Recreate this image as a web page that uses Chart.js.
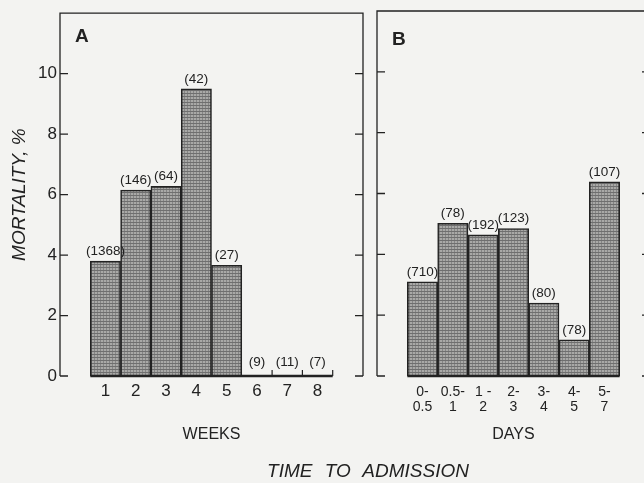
<!DOCTYPE html>
<html>
<head>
<meta charset="utf-8">
<script src="https://cdn.jsdelivr.net/npm/chart.js@4/dist/chart.umd.min.js"></script>
<style>
  html, body { margin:0; padding:0; background:#f3f3f1; overflow:hidden; width:644px; height:483px; }
  canvas { position:absolute; left:0; top:0; }
  .lbl { position:absolute; font-family:"Liberation Sans", Arial, sans-serif; color:#222; }
  #panelA { left:75px; top:25px; font-size:19px; font-weight:bold; }
  #panelB { left:392px; top:28px; font-size:19px; font-weight:bold; }
  #xcap { left:0; width:736px; top:460px; text-align:center; font-size:19px; font-style:italic; word-spacing:7px; }
</style>
</head>
<body>
<canvas id="chartA" width="644" height="483"></canvas>
<canvas id="chartB" width="700" height="483"></canvas>
<div class="lbl" id="panelA">A</div>
<div class="lbl" id="panelB">B</div>
<div class="lbl" id="xcap">TIME TO ADMISSION</div>
<script>
// ── Data ───────────────────────────────────────────────
const weekLabels    = ['1', '2', '3', '4', '5', '6', '7', '8'];
const weekMortality = [3.8, 6.15, 6.27, 9.5, 3.66, 0, 0, 0];
const weekCounts    = ['(1368)', '(146)', '(64)', '(42)', '(27)', '(9)', '(11)', '(7)'];

const dayLabels    = [['0-', '0.5'], ['0.5-', '1'], ['1 -', '2'], ['2-', '3'], ['3-', '4'], ['4-', '5'], ['5-', '7']];
const dayMortality = [3.1, 5.02, 4.64, 4.85, 2.4, 1.19, 6.38];
const dayCounts    = ['(710)', '(78)', '(192)', '(123)', '(80)', '(78)', '(107)'];

const yTicks = [0, 2, 4, 6, 8, 10];
const yMax   = 12;

const INK  = '#222222';
const FONT = '"Liberation Sans", Arial, sans-serif';

// ── Stippled bar fill ──────────────────────────────────
function stipple() {
  const c = document.createElement('canvas');
  c.width = 3; c.height = 3;
  const g = c.getContext('2d');
  g.fillStyle = '#a9a9a7'; g.fillRect(0, 0, 3, 3);
  g.fillStyle = '#6f6f6f'; g.fillRect(0, 0, 3, 1);
  g.fillStyle = '#858585'; g.fillRect(1, 1, 1, 2);
  return g.createPattern(c, 'repeat');
}
const fill = stipple();

// pad one empty slot on each side so bars sit inside the frame
const pad = arr => [null, ...arr, null];

// ── Frame, inward ticks, baseline, counts ──────────────
const framePlugin = {
  id: 'frame',
  afterDatasetsDraw(chart) {
    const { ctx, chartArea: a, scales } = chart;
    const y = scales.y;
    ctx.save();
    ctx.strokeStyle = INK;
    ctx.lineWidth = 1.3;
    ctx.beginPath();
    ctx.moveTo(a.left, a.bottom); ctx.lineTo(a.left, a.top);
    ctx.lineTo(a.right, a.top); ctx.lineTo(a.right, a.bottom);
    yTicks.forEach(v => {
      const py = y.getPixelForValue(v);
      ctx.moveTo(a.left, py); ctx.lineTo(a.left + 8, py);
      ctx.moveTo(a.right, py); ctx.lineTo(a.right - 8, py);
    });
    ctx.stroke();

    const meta = chart.getDatasetMeta(0);
    const vals = chart.data.datasets[0].data;
    const counts = chart.options.plugins.frame.counts;
    const y0 = y.getPixelForValue(0);
    let x0 = null, x1 = null;
    meta.data.forEach((el, i) => {
      if (vals[i] == null) return;
      const l = el.x - el.width / 2, r = el.x + el.width / 2;
      if (x0 === null) x0 = l;
      x1 = r;
    });
    // baseline
    ctx.lineWidth = 2.5;
    ctx.beginPath(); ctx.moveTo(x0, y0); ctx.lineTo(x1, y0); ctx.stroke();
    // small ticks at right edge of empty bins
    ctx.lineWidth = 1.2;
    ctx.beginPath();
    meta.data.forEach((el, i) => {
      if (vals[i] !== 0) return;
      const r = el.x + el.width / 2;
      ctx.moveTo(r, y0); ctx.lineTo(r, y0 - 6);
    });
    ctx.stroke();

    // sample sizes above bars
    ctx.fillStyle = INK;
    ctx.font = '13.5px ' + FONT;
    ctx.textAlign = 'center';
    ctx.textBaseline = 'bottom';
    meta.data.forEach((el, i) => {
      if (vals[i] == null) return;
      ctx.fillText(counts[i], el.x, el.y - (vals[i] === 0 ? 7 : 3));
    });
    ctx.restore();
  }
};

function barDataset(vals) {
  return {
    data: vals,
    backgroundColor: fill,
    borderColor: INK,
    borderWidth: 1.6,
    barPercentage: 1,
    categoryPercentage: 1
  };
}

function yScale(show) {
  return {
    display: show,
    min: 0, max: yMax,
    afterBuildTicks: s => { s.ticks = yTicks.map(v => ({ value: v })); },
    afterFit: s => { if (show) s.width = 60; },
    grid: { display: false, drawTicks: false },
    border: { display: false },
    ticks: { padding: 3, color: INK, font: { family: FONT, size: 17 } },
    title: {
      display: show, text: 'MORTALITY, %', color: INK,
      font: { family: FONT, size: 19, style: 'italic' },
      padding: { top: 8, bottom: 0 }
    }
  };
}

function xScale(title, fontSize, tickPad, lineH, titlePad) {
  return {
    afterFit: s => { s.height = 107; },
    grid: { display: false, drawTicks: false },
    border: { display: false },
    ticks: {
      autoSkip: false, maxRotation: 0, padding: tickPad, color: INK,
      font: { family: FONT, size: fontSize, lineHeight: lineH }
    },
    title: {
      display: true, text: title, color: INK,
      font: { family: FONT, size: 16 },
      padding: { top: 0, bottom: titlePad }
    }
  };
}

const common = {
  responsive: false,
  animation: false,
  events: [],
  plugins: { legend: { display: false }, tooltip: { enabled: false } }
};

// ── Panel A: weeks ─────────────────────────────────────
new Chart(document.getElementById('chartA').getContext('2d'), {
  type: 'bar',
  data: { labels: pad(weekLabels).map(v => v || ''), datasets: [barDataset(pad(weekMortality))] },
  options: {
    ...common,
    layout: { padding: { left: 0, top: 11, right: 281, bottom: 0 } },
    plugins: { ...common.plugins, frame: { counts: pad(weekCounts) } },
    scales: { x: xScale('WEEKS', 17, 5, 1.2, 39), y: yScale(true) }
  },
  plugins: [framePlugin]
});

// ── Panel B: days ──────────────────────────────────────
new Chart(document.getElementById('chartB').getContext('2d'), {
  type: 'bar',
  data: { labels: pad(dayLabels).map(v => v || ''), datasets: [barDataset(pad(dayMortality))] },
  options: {
    ...common,
    layout: { padding: { left: 377, top: 11, right: 50, bottom: 0 } },
    plugins: { ...common.plugins, frame: { counts: pad(dayCounts) } },
    scales: { x: xScale('DAYS', 14, 8, 1.1, 39), y: yScale(false) }
  },
  plugins: [framePlugin]
});
</script>
</body>
</html>
